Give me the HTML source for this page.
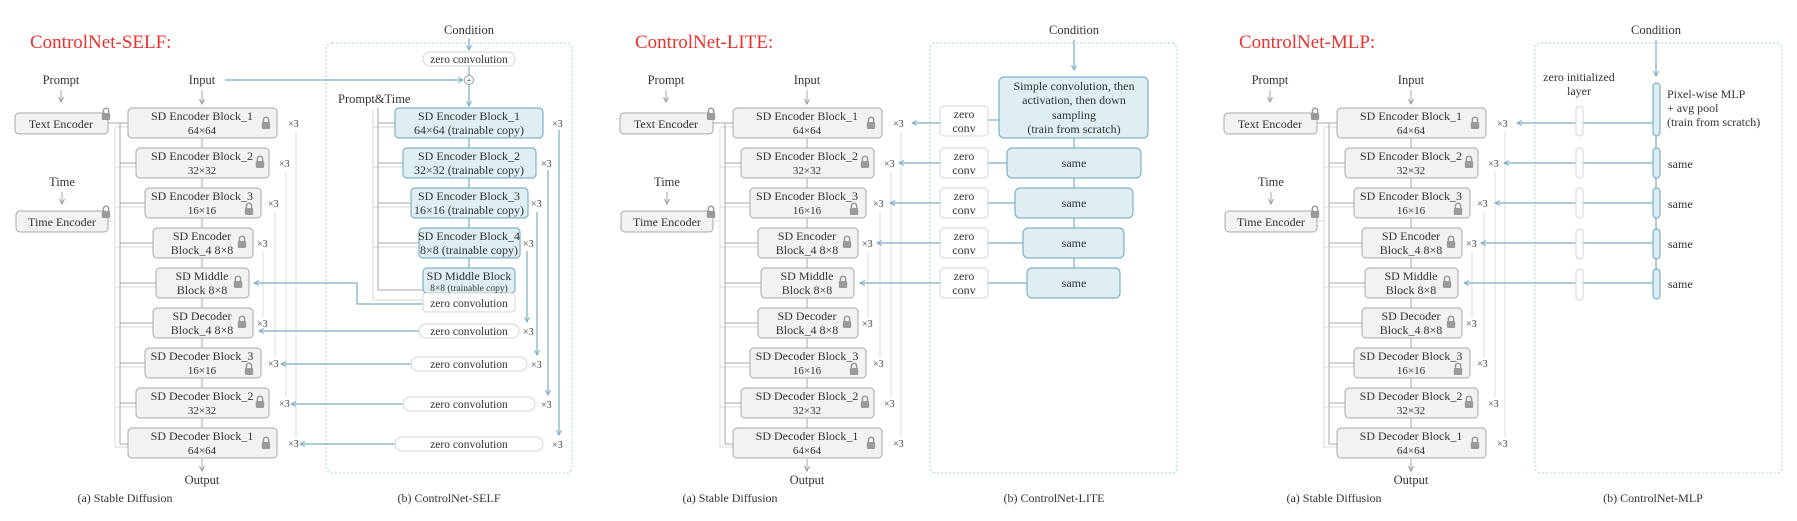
<!DOCTYPE html>
<html><head><meta charset="utf-8"><style>
html,body{margin:0;padding:0;background:#fff;}
svg{display:block;font-family:"Liberation Serif",serif;}
</style></head><body>
<svg width="1797" height="521" viewBox="0 0 1797 521" xmlns="http://www.w3.org/2000/svg">
<defs>
<marker id="ab" markerWidth="6" markerHeight="6" refX="5" refY="3" orient="auto" markerUnits="userSpaceOnUse"><path d="M0,0.5 L5,3 L0,5.5" fill="none" stroke="#7aaec2" stroke-width="1"/></marker>
<marker id="ag" markerWidth="6" markerHeight="6" refX="5" refY="3" orient="auto" markerUnits="userSpaceOnUse"><path d="M0,0.5 L5,3 L0,5.5" fill="none" stroke="#999" stroke-width="1"/></marker>
<g id="lock"><path d="M-2.6,-1 v-2.2 a2.6,2.6 0 0 1 5.2,0 v2.2" fill="none" stroke="#9a9a9a" stroke-width="1.5"/><rect x="-4.2" y="-1" width="8.4" height="7" rx="1.2" fill="#9a9a9a"/></g>
</defs>

<!-- ============ SD column template (panel 1) ============ -->
<g id="sd1">
<g font-size="12.5" fill="#333" text-anchor="middle">
<text x="61" y="84">Prompt</text><text x="202" y="84">Input</text><text x="62" y="186">Time</text>
<text x="202" y="484">Output</text>
<text x="125" y="502" font-size="12">(a) Stable Diffusion</text>
</g>
<g stroke="#aaa" stroke-width="1"><line x1="61" y1="90" x2="61" y2="102" marker-end="url(#ag)"/><line x1="202" y1="90" x2="202" y2="104" marker-end="url(#ag)"/><line x1="62" y1="192" x2="62" y2="204" marker-end="url(#ag)"/><line x1="202" y1="459" x2="202" y2="471" marker-end="url(#ag)"/></g>
<g stroke="#e2e2e2" stroke-width="1.2" fill="none">
<line x1="296" y1="132" x2="296" y2="438"/><line x1="286" y1="172" x2="286" y2="398"/><line x1="275" y1="212" x2="275" y2="358"/><line x1="263" y1="252" x2="263" y2="318"/>
<line x1="115" y1="128" x2="115" y2="448"/>
<path d="M108,221 H115"/>
<path d="M115,127 H128 M115,167 H136 M115,207 H145 M115,247 H153 M115,287 H156 M115,327 H153 M115,367 H145 M115,407 H136 M115,447 H128"/>
</g>
<g stroke="#aaa" stroke-width="1" fill="none">
<path d="M108,123 H128"/><line x1="120" y1="123" x2="120" y2="444"/>
<path d="M120,163 H136 M120,203 H145 M120,243 H153 M120,283 H156 M120,323 H153 M120,363 H145 M120,403 H136 M120,444 H128"/>
<line x1="202" y1="138" x2="202" y2="429"/>
</g>
<g fill="#f2f2f2" stroke="#a8a8a8" stroke-width="1">
<rect x="15" y="113" width="93" height="21" rx="4"/><rect x="16" y="211" width="92" height="21" rx="4"/>
<rect x="128" y="108" width="149" height="30" rx="4"/><rect x="136" y="148" width="133" height="30" rx="4"/><rect x="145" y="188" width="116" height="30" rx="4"/><rect x="153" y="228" width="100" height="30" rx="4"/><rect x="156" y="268" width="93" height="30" rx="4"/><rect x="153" y="308" width="100" height="30" rx="4"/><rect x="145" y="348" width="116" height="30" rx="4"/><rect x="136" y="388" width="133" height="30" rx="4"/><rect x="128" y="428" width="149" height="30" rx="4"/>
</g>
<g font-size="12" fill="#333" text-anchor="middle">
<text x="61" y="128">Text Encoder</text><text x="62" y="226">Time Encoder</text>
<text x="202" y="120">SD Encoder Block_1</text><text x="202" y="134" font-size="11">64×64</text>
<text x="202" y="160">SD Encoder Block_2</text><text x="202" y="174" font-size="11">32×32</text>
<text x="202" y="200">SD Encoder Block_3</text><text x="202" y="214" font-size="11">16×16</text>
<text x="202" y="240">SD Encoder</text><text x="202" y="254">Block_4 8×8</text>
<text x="202" y="280">SD Middle</text><text x="202" y="294">Block 8×8</text>
<text x="202" y="320">SD Decoder</text><text x="202" y="334">Block_4 8×8</text>
<text x="202" y="360">SD Decoder Block_3</text><text x="202" y="374" font-size="11">16×16</text>
<text x="202" y="400">SD Decoder Block_2</text><text x="202" y="414" font-size="11">32×32</text>
<text x="202" y="440">SD Decoder Block_1</text><text x="202" y="454" font-size="11">64×64</text>
</g>
<use href="#lock" x="106" y="114"/><use href="#lock" x="106" y="212"/>
<use href="#lock" x="266" y="123"/><use href="#lock" x="260" y="162"/><use href="#lock" x="249" y="209"/><use href="#lock" x="242" y="242"/><use href="#lock" x="238" y="282"/><use href="#lock" x="242" y="322"/><use href="#lock" x="249" y="369"/><use href="#lock" x="260" y="402"/><use href="#lock" x="266" y="443"/>
<g font-size="10" fill="#444">
<text x="288" y="127">×3</text><text x="279" y="167">×3</text><text x="268" y="207">×3</text><text x="257" y="247">×3</text><text x="257" y="327">×3</text><text x="268" y="367">×3</text><text x="279" y="407">×3</text><text x="288" y="447">×3</text>
</g>
</g>

<text x="30" y="48" font-size="19" fill="#e8322d">ControlNet-SELF:</text>

<!-- SELF right -->
<rect x="326" y="43" width="246" height="430" rx="6" fill="none" stroke="#a6cfdc" stroke-width="1" stroke-dasharray="2 2"/>
<g font-size="12.5" fill="#333" text-anchor="middle"><text x="469" y="34">Condition</text><text x="449" y="502" font-size="12">(b) ControlNet-SELF</text></g>
<text x="338" y="103" font-size="12.5" fill="#333">Prompt&amp;Time</text>
<g stroke="#7aaec2" stroke-width="1.2" fill="none">
<line x1="469" y1="38" x2="469" y2="50" marker-end="url(#ab)"/>
<line x1="469" y1="66" x2="469" y2="75"/>
<line x1="225" y1="80" x2="463" y2="80" marker-end="url(#ab)"/>
<line x1="469" y1="85" x2="469" y2="106" marker-end="url(#ab)"/>
<line x1="469" y1="138" x2="469" y2="268"/>
<line x1="559" y1="130" x2="559" y2="435" marker-end="url(#ab)"/>
<line x1="548" y1="170" x2="548" y2="395" marker-end="url(#ab)"/>
<line x1="537" y1="212" x2="537" y2="355" marker-end="url(#ab)"/>
<line x1="527" y1="251" x2="527" y2="322" marker-end="url(#ab)"/>
<path d="M423,304 H357 V283 H254" marker-end="url(#ab)"/>
<path d="M419,331 H259" marker-end="url(#ab)"/>
<path d="M411,364 H281" marker-end="url(#ab)"/>
<path d="M403,404 H291" marker-end="url(#ab)"/>
<path d="M395,444 H300" marker-end="url(#ab)"/>
</g>
<circle cx="469" cy="80" r="4.5" fill="#fff" stroke="#999"/><text x="469" y="83.5" font-size="9" text-anchor="middle" fill="#555">+</text>
<g stroke="#e0e0e0" stroke-width="1.2" fill="none"><path d="M373,110 V300 H423"/><path d="M373,127 H395 M373,167 H403 M373,207 H411 M373,247 H419"/></g>
<g stroke="#aaa" stroke-width="1" fill="none"><path d="M378,108 V290 H423"/><path d="M378,123 H395 M378,163 H403 M378,203 H411 M378,243 H419"/></g>
<g fill="#deeef3" stroke="#7fb2c4" stroke-width="1.2">
<rect x="395" y="108" width="148" height="30" rx="4"/><rect x="403" y="148" width="133" height="30" rx="4"/><rect x="411" y="188" width="117" height="30" rx="4"/><rect x="419" y="228" width="101" height="30" rx="4"/><rect x="423" y="268" width="92" height="25" rx="4"/>
</g>
<g fill="#fff" stroke="#d4d4d4" stroke-width="1">
<rect x="423" y="52" width="92" height="14" rx="7"/>
<rect x="423" y="293" width="92" height="19" rx="3"/>
<rect x="419" y="324" width="100" height="14" rx="7"/><rect x="411" y="357" width="116" height="14" rx="7"/><rect x="403" y="397" width="132" height="14" rx="7"/><rect x="395" y="437" width="148" height="14" rx="7"/>
</g>
<g font-size="12" fill="#333" text-anchor="middle">
<text x="469" y="63" font-size="11.5">zero convolution</text>
<text x="469" y="120">SD Encoder Block_1</text><text x="469" y="134">64×64 (trainable copy)</text>
<text x="469" y="160">SD Encoder Block_2</text><text x="469" y="174">32×32 (trainable copy)</text>
<text x="469" y="200">SD Encoder Block_3</text><text x="469" y="214">16×16 (trainable copy)</text>
<text x="469" y="240">SD Encoder Block_4</text><text x="469" y="254">8×8 (trainable copy)</text>
<text x="469" y="280">SD Middle Block</text><text x="469" y="291" font-size="9.5">8×8 (trainable copy)</text>
<text x="469" y="307" font-size="11.5">zero convolution</text>
<text x="469" y="335" font-size="11.5">zero convolution</text><text x="469" y="368" font-size="11.5">zero convolution</text><text x="469" y="408" font-size="11.5">zero convolution</text><text x="469" y="448" font-size="11.5">zero convolution</text>
</g>
<g font-size="10" fill="#444"><text x="552" y="127">×3</text><text x="541" y="167">×3</text><text x="531" y="207">×3</text><text x="523" y="247">×3</text><text x="523" y="335">×3</text><text x="531" y="368">×3</text><text x="541" y="408">×3</text><text x="552" y="448">×3</text></g>

<!-- ============ Panel 2 SD copy ============ -->
<g transform="translate(605,0)">
<g font-size="12.5" fill="#333" text-anchor="middle">
<text x="61" y="84">Prompt</text><text x="202" y="84">Input</text><text x="62" y="186">Time</text>
<text x="202" y="484">Output</text>
<text x="125" y="502" font-size="12">(a) Stable Diffusion</text>
</g>
<g stroke="#aaa" stroke-width="1"><line x1="61" y1="90" x2="61" y2="102" marker-end="url(#ag)"/><line x1="202" y1="90" x2="202" y2="104" marker-end="url(#ag)"/><line x1="62" y1="192" x2="62" y2="204" marker-end="url(#ag)"/><line x1="202" y1="459" x2="202" y2="471" marker-end="url(#ag)"/></g>
<g stroke="#e2e2e2" stroke-width="1.2" fill="none">
<line x1="296" y1="132" x2="296" y2="438"/><line x1="286" y1="172" x2="286" y2="398"/><line x1="275" y1="212" x2="275" y2="358"/><line x1="263" y1="252" x2="263" y2="318"/>
<line x1="115" y1="128" x2="115" y2="448"/>
<path d="M108,221 H115"/>
<path d="M115,127 H128 M115,167 H136 M115,207 H145 M115,247 H153 M115,287 H156 M115,327 H153 M115,367 H145 M115,407 H136 M115,447 H128"/>
</g>
<g stroke="#aaa" stroke-width="1" fill="none">
<path d="M108,123 H128"/><line x1="120" y1="123" x2="120" y2="444"/>
<path d="M120,163 H136 M120,203 H145 M120,243 H153 M120,283 H156 M120,323 H153 M120,363 H145 M120,403 H136 M120,444 H128"/>
<line x1="202" y1="138" x2="202" y2="429"/>
</g>
<g fill="#f2f2f2" stroke="#a8a8a8" stroke-width="1">
<rect x="15" y="113" width="93" height="21" rx="4"/><rect x="16" y="211" width="92" height="21" rx="4"/>
<rect x="128" y="108" width="149" height="30" rx="4"/><rect x="136" y="148" width="133" height="30" rx="4"/><rect x="145" y="188" width="116" height="30" rx="4"/><rect x="153" y="228" width="100" height="30" rx="4"/><rect x="156" y="268" width="93" height="30" rx="4"/><rect x="153" y="308" width="100" height="30" rx="4"/><rect x="145" y="348" width="116" height="30" rx="4"/><rect x="136" y="388" width="133" height="30" rx="4"/><rect x="128" y="428" width="149" height="30" rx="4"/>
</g>
<g font-size="12" fill="#333" text-anchor="middle">
<text x="61" y="128">Text Encoder</text><text x="62" y="226">Time Encoder</text>
<text x="202" y="120">SD Encoder Block_1</text><text x="202" y="134" font-size="11">64×64</text>
<text x="202" y="160">SD Encoder Block_2</text><text x="202" y="174" font-size="11">32×32</text>
<text x="202" y="200">SD Encoder Block_3</text><text x="202" y="214" font-size="11">16×16</text>
<text x="202" y="240">SD Encoder</text><text x="202" y="254">Block_4 8×8</text>
<text x="202" y="280">SD Middle</text><text x="202" y="294">Block 8×8</text>
<text x="202" y="320">SD Decoder</text><text x="202" y="334">Block_4 8×8</text>
<text x="202" y="360">SD Decoder Block_3</text><text x="202" y="374" font-size="11">16×16</text>
<text x="202" y="400">SD Decoder Block_2</text><text x="202" y="414" font-size="11">32×32</text>
<text x="202" y="440">SD Decoder Block_1</text><text x="202" y="454" font-size="11">64×64</text>
</g>
<use href="#lock" x="106" y="114"/><use href="#lock" x="106" y="212"/>
<use href="#lock" x="266" y="123"/><use href="#lock" x="260" y="162"/><use href="#lock" x="249" y="209"/><use href="#lock" x="242" y="242"/><use href="#lock" x="238" y="282"/><use href="#lock" x="242" y="322"/><use href="#lock" x="249" y="369"/><use href="#lock" x="260" y="402"/><use href="#lock" x="266" y="443"/>
<g font-size="10" fill="#444">
<text x="288" y="127">×3</text><text x="279" y="167">×3</text><text x="268" y="207">×3</text><text x="257" y="247">×3</text><text x="257" y="327">×3</text><text x="268" y="367">×3</text><text x="279" y="407">×3</text><text x="288" y="447">×3</text>
</g>
</g>

<text x="635" y="48" font-size="19" fill="#e8322d">ControlNet-LITE:</text>
<rect x="930" y="43" width="247" height="430" rx="6" fill="none" stroke="#a6cfdc" stroke-width="1" stroke-dasharray="2 2"/>
<g font-size="12.5" fill="#333" text-anchor="middle"><text x="1074" y="34">Condition</text><text x="1054" y="502" font-size="12">(b) ControlNet-LITE</text></g>
<g stroke="#7aaec2" stroke-width="1.2" fill="none">
<line x1="1074" y1="40" x2="1074" y2="70" marker-end="url(#ab)"/>
<line x1="1074" y1="138" x2="1074" y2="268"/>
<path d="M999,120 H988 M1007,163 H988 M1015,203 H988 M1023,243 H988 M1027,283 H988"/>
<path d="M940,123 H912" marker-end="url(#ab)"/>
<path d="M940,163 H899" marker-end="url(#ab)"/>
<path d="M940,203 H890" marker-end="url(#ab)"/>
<path d="M940,243 H877" marker-end="url(#ab)"/>
<path d="M940,283 H860" marker-end="url(#ab)"/>
</g>
<g fill="#deeef3" stroke="#7fb2c4" stroke-width="1.2">
<rect x="999" y="77" width="149" height="61" rx="5"/><rect x="1007" y="148" width="134" height="30" rx="5"/><rect x="1015" y="188" width="118" height="30" rx="5"/><rect x="1023" y="228" width="101" height="30" rx="5"/><rect x="1027" y="268" width="93" height="30" rx="5"/>
</g>
<g fill="#fff" stroke="#d4d4d4" stroke-width="1">
<rect x="940" y="106" width="48" height="30" rx="4"/><rect x="940" y="148" width="48" height="30" rx="4"/><rect x="940" y="188" width="48" height="30" rx="4"/><rect x="940" y="228" width="48" height="30" rx="4"/><rect x="940" y="268" width="48" height="30" rx="4"/>
</g>
<g font-size="12" fill="#333" text-anchor="middle">
<text x="1074" y="90">Simple convolution, then</text><text x="1074" y="104">activation, then down</text><text x="1074" y="119">sampling</text><text x="1074" y="133">(train from scratch)</text>
<text x="1074" y="167">same</text><text x="1074" y="207">same</text><text x="1074" y="247">same</text><text x="1074" y="287">same</text>
<text x="964" y="118">zero</text><text x="964" y="132">conv</text>
<text x="964" y="160">zero</text><text x="964" y="174">conv</text>
<text x="964" y="200">zero</text><text x="964" y="214">conv</text>
<text x="964" y="240">zero</text><text x="964" y="254">conv</text>
<text x="964" y="280">zero</text><text x="964" y="294">conv</text>
</g>

<!-- ============ Panel 3 SD copy ============ -->
<g transform="translate(1209,0)">
<g font-size="12.5" fill="#333" text-anchor="middle">
<text x="61" y="84">Prompt</text><text x="202" y="84">Input</text><text x="62" y="186">Time</text>
<text x="202" y="484">Output</text>
<text x="125" y="502" font-size="12">(a) Stable Diffusion</text>
</g>
<g stroke="#aaa" stroke-width="1"><line x1="61" y1="90" x2="61" y2="102" marker-end="url(#ag)"/><line x1="202" y1="90" x2="202" y2="104" marker-end="url(#ag)"/><line x1="62" y1="192" x2="62" y2="204" marker-end="url(#ag)"/><line x1="202" y1="459" x2="202" y2="471" marker-end="url(#ag)"/></g>
<g stroke="#e2e2e2" stroke-width="1.2" fill="none">
<line x1="296" y1="132" x2="296" y2="438"/><line x1="286" y1="172" x2="286" y2="398"/><line x1="275" y1="212" x2="275" y2="358"/><line x1="263" y1="252" x2="263" y2="318"/>
<line x1="115" y1="128" x2="115" y2="448"/>
<path d="M108,221 H115"/>
<path d="M115,127 H128 M115,167 H136 M115,207 H145 M115,247 H153 M115,287 H156 M115,327 H153 M115,367 H145 M115,407 H136 M115,447 H128"/>
</g>
<g stroke="#aaa" stroke-width="1" fill="none">
<path d="M108,123 H128"/><line x1="120" y1="123" x2="120" y2="444"/>
<path d="M120,163 H136 M120,203 H145 M120,243 H153 M120,283 H156 M120,323 H153 M120,363 H145 M120,403 H136 M120,444 H128"/>
<line x1="202" y1="138" x2="202" y2="429"/>
</g>
<g fill="#f2f2f2" stroke="#a8a8a8" stroke-width="1">
<rect x="15" y="113" width="93" height="21" rx="4"/><rect x="16" y="211" width="92" height="21" rx="4"/>
<rect x="128" y="108" width="149" height="30" rx="4"/><rect x="136" y="148" width="133" height="30" rx="4"/><rect x="145" y="188" width="116" height="30" rx="4"/><rect x="153" y="228" width="100" height="30" rx="4"/><rect x="156" y="268" width="93" height="30" rx="4"/><rect x="153" y="308" width="100" height="30" rx="4"/><rect x="145" y="348" width="116" height="30" rx="4"/><rect x="136" y="388" width="133" height="30" rx="4"/><rect x="128" y="428" width="149" height="30" rx="4"/>
</g>
<g font-size="12" fill="#333" text-anchor="middle">
<text x="61" y="128">Text Encoder</text><text x="62" y="226">Time Encoder</text>
<text x="202" y="120">SD Encoder Block_1</text><text x="202" y="134" font-size="11">64×64</text>
<text x="202" y="160">SD Encoder Block_2</text><text x="202" y="174" font-size="11">32×32</text>
<text x="202" y="200">SD Encoder Block_3</text><text x="202" y="214" font-size="11">16×16</text>
<text x="202" y="240">SD Encoder</text><text x="202" y="254">Block_4 8×8</text>
<text x="202" y="280">SD Middle</text><text x="202" y="294">Block 8×8</text>
<text x="202" y="320">SD Decoder</text><text x="202" y="334">Block_4 8×8</text>
<text x="202" y="360">SD Decoder Block_3</text><text x="202" y="374" font-size="11">16×16</text>
<text x="202" y="400">SD Decoder Block_2</text><text x="202" y="414" font-size="11">32×32</text>
<text x="202" y="440">SD Decoder Block_1</text><text x="202" y="454" font-size="11">64×64</text>
</g>
<use href="#lock" x="106" y="114"/><use href="#lock" x="106" y="212"/>
<use href="#lock" x="266" y="123"/><use href="#lock" x="260" y="162"/><use href="#lock" x="249" y="209"/><use href="#lock" x="242" y="242"/><use href="#lock" x="238" y="282"/><use href="#lock" x="242" y="322"/><use href="#lock" x="249" y="369"/><use href="#lock" x="260" y="402"/><use href="#lock" x="266" y="443"/>
<g font-size="10" fill="#444">
<text x="288" y="127">×3</text><text x="279" y="167">×3</text><text x="268" y="207">×3</text><text x="257" y="247">×3</text><text x="257" y="327">×3</text><text x="268" y="367">×3</text><text x="279" y="407">×3</text><text x="288" y="447">×3</text>
</g>
</g>

<text x="1239" y="48" font-size="19" fill="#e8322d">ControlNet-MLP:</text>
<rect x="1535" y="43" width="247" height="430" rx="6" fill="none" stroke="#a6cfdc" stroke-width="1" stroke-dasharray="2 2"/>
<g font-size="12.5" fill="#333" text-anchor="middle"><text x="1656" y="34">Condition</text><text x="1653" y="502" font-size="12">(b) ControlNet-MLP</text></g>
<g font-size="12" fill="#333" text-anchor="middle"><text x="1579" y="81">zero initialized</text><text x="1579" y="95">layer</text></g>
<g stroke="#7aaec2" stroke-width="1.2" fill="none">
<line x1="1656" y1="40" x2="1656" y2="76" marker-end="url(#ab)"/>
<line x1="1656" y1="136" x2="1656" y2="270"/>
<path d="M1653,123 H1517" marker-end="url(#ab)"/>
<path d="M1653,163 H1504" marker-end="url(#ab)"/>
<path d="M1653,203 H1495" marker-end="url(#ab)"/>
<path d="M1653,243 H1481" marker-end="url(#ab)"/>
<path d="M1653,283 H1464" marker-end="url(#ab)"/>
</g>
<g fill="#fff" stroke="#d4d4d4" stroke-width="1">
<rect x="1576" y="106" width="7" height="30" rx="3.5"/><rect x="1576" y="148" width="7" height="30" rx="3.5"/><rect x="1576" y="188" width="7" height="30" rx="3.5"/><rect x="1576" y="229" width="7" height="30" rx="3.5"/><rect x="1576" y="269" width="7" height="31" rx="3.5"/>
</g>
<g fill="#deeef3" stroke="#7fb2c4" stroke-width="1.2">
<rect x="1653" y="83" width="7" height="53" rx="3.5"/><rect x="1653" y="148" width="7" height="30" rx="3.5"/><rect x="1653" y="188" width="7" height="30" rx="3.5"/><rect x="1653" y="229" width="7" height="30" rx="3.5"/><rect x="1653" y="269" width="7" height="30" rx="3.5"/>
</g>
<g font-size="12" fill="#333">
<text x="1667" y="98">Pixel-wise MLP</text><text x="1667" y="112">+ avg pool</text><text x="1667" y="126">(train from scratch)</text>
<text x="1668" y="168">same</text><text x="1668" y="208">same</text><text x="1668" y="248">same</text><text x="1668" y="288">same</text>
</g>
</svg>
</body></html>
